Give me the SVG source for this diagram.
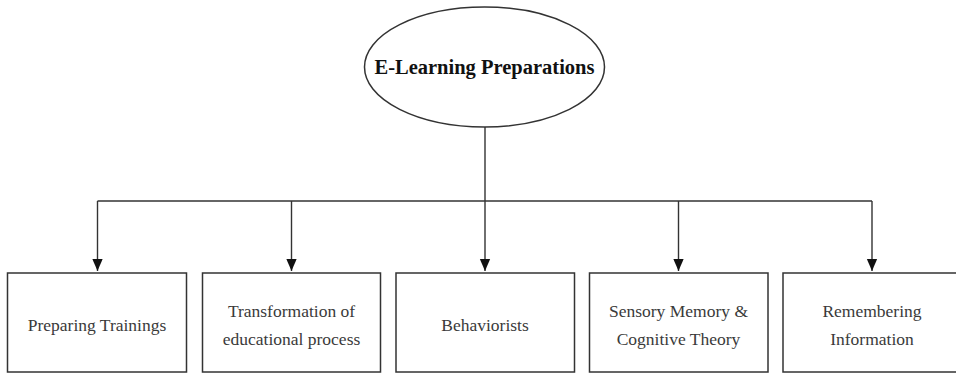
<svg xmlns="http://www.w3.org/2000/svg" width="956" height="375" viewBox="0 0 956 375">
<defs>
<style>
.box{fill:#fff;stroke:#333;stroke-width:1.5}
.lbl{font-family:"Liberation Serif","Times New Roman",serif;font-size:17.5px;fill:#3a3a3a;text-anchor:middle}
.title{font-family:"Liberation Serif","Times New Roman",serif;font-size:20.5px;font-weight:bold;fill:#111;text-anchor:middle}
.conn{fill:none;stroke:#333;stroke-width:1.4}
</style>
<marker id="arrowhead" markerWidth="12" markerHeight="14" refX="14" refY="6" orient="auto" markerUnits="userSpaceOnUse" viewBox="0 0 14 12">
<path d="M0,0 L14,6 L0,12 Z" fill="#111"/>
</marker>
</defs>
<rect width="956" height="375" fill="#fff"/>
<g id="connectors">
<path class="conn" d="M485,127 V271" marker-end="url(#arrowhead)"/>
<path class="conn" d="M97.5,201 H872"/>
<path class="conn" d="M97.5,201 V271" marker-end="url(#arrowhead)"/>
<path class="conn" d="M291.5,201 V271" marker-end="url(#arrowhead)"/>
<path class="conn" d="M678.5,201 V271" marker-end="url(#arrowhead)"/>
<path class="conn" d="M872,201 V271" marker-end="url(#arrowhead)"/>
</g>
<g id="root">
<ellipse cx="484.5" cy="67" rx="120" ry="60" fill="#fff" stroke="#333" stroke-width="1.5"/>
<text class="title" x="484.5" y="74">E-Learning Preparations</text>
</g>
<g id="n1">
<rect class="box" x="7.5" y="273" width="179" height="99"/>
<text class="lbl" x="97" y="331">Preparing Trainings</text>
</g>
<g id="n2">
<rect class="box" x="202.5" y="273" width="178" height="99"/>
<text class="lbl" x="291.5" y="317">Transformation of</text>
<text class="lbl" x="291.5" y="345">educational process</text>
</g>
<g id="n3">
<rect class="box" x="396" y="273" width="178.5" height="99"/>
<text class="lbl" x="485" y="331">Behaviorists</text>
</g>
<g id="n4">
<rect class="box" x="589.5" y="273" width="178.5" height="99"/>
<text class="lbl" x="678.5" y="317">Sensory Memory &amp;</text>
<text class="lbl" x="678.5" y="345">Cognitive Theory</text>
</g>
<g id="n5">
<rect class="box" x="783" y="273" width="179" height="99"/>
<text class="lbl" x="872" y="317">Remembering</text>
<text class="lbl" x="872" y="345">Information</text>
</g>
</svg>
